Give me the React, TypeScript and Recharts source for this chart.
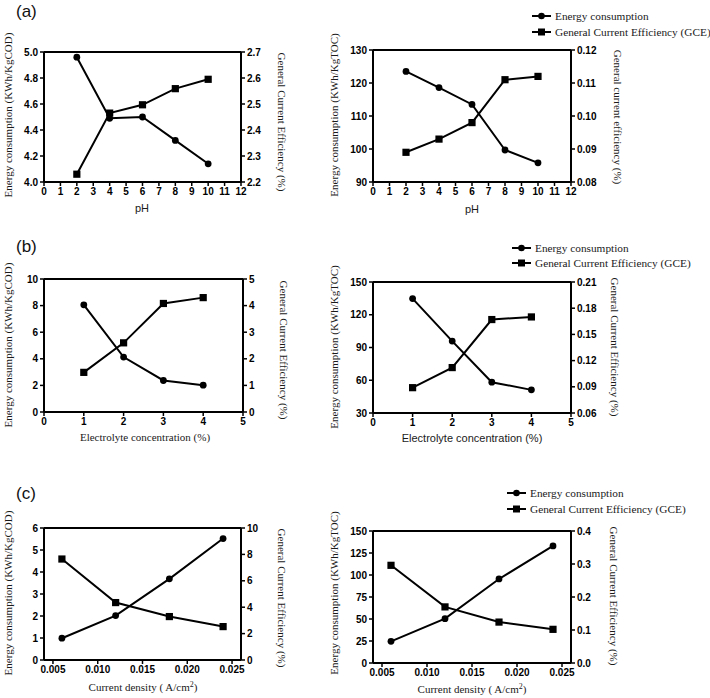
import React from 'react';
import { LineChart, Line, XAxis, YAxis, ReferenceLine } from 'recharts';

// (a) pH
const pH = [2, 4, 6, 8, 10];
const energyCodPH = [4.96, 4.49, 4.5, 4.32, 4.14];
const gceCodPH = [2.23, 2.465, 2.497, 2.559, 2.595];
const energyTocPH = [123.5, 118.6, 113.5, 99.7, 95.8];
const gceTocPH = [0.089, 0.093, 0.098, 0.111, 0.112];

// (b) electrolyte concentration
const electrolyte = [1, 2, 3, 4];
const energyCodEl = [8.06, 4.13, 2.37, 2.02];
const gceCodEl = [1.49, 2.6, 4.08, 4.3];
const energyTocEl = [134.8, 95.9, 58.2, 51.2];
const gceTocEl = [0.089, 0.112, 0.167, 0.17];

// (c) current density
const density = [0.006, 0.012, 0.018, 0.024];
const energyCodCd = [0.99, 2.02, 3.69, 5.52];
const gceCodCd = [7.65, 4.35, 3.29, 2.53];
const energyTocCd = [24.6, 50.4, 95.5, 133];
const gceTocCd = [0.296, 0.17, 0.124, 0.102];

// tick labels
const pHTicks = [0, 1, 2, 3, 4, 5, 6, 7, 8, 9, 10, 11, 12];
const elTicks = [0, 1, 2, 3, 4, 5];
const cdTicks = [0.005, 0.01, 0.015, 0.02, 0.025];
const aCodTicks = [4.0, 4.2, 4.4, 4.6, 4.8, 5.0];
const aCodGceTicks = [2.2, 2.3, 2.4, 2.5, 2.6, 2.7];
const aTocTicks = [90, 100, 110, 120, 130];
const aTocGceTicks = [0.08, 0.09, 0.1, 0.11, 0.12];
const bCodTicks = [0, 2, 4, 6, 8, 10];
const bCodGceTicks = [0, 1, 2, 3, 4, 5];
const bTocTicks = [30, 60, 90, 120, 150];
const bTocGceTicks = [0.06, 0.09, 0.12, 0.15, 0.18, 0.21];
const cCodTicks = [0, 1, 2, 3, 4, 5, 6];
const cCodGceTicks = [0, 2, 4, 6, 8, 10];
const cTocTicks = [0, 25, 50, 75, 100, 125, 150];
const cTocGceTicks = [0, 0.1, 0.2, 0.3, 0.4];

const AXW = 40;
const TOP = 8;
const XH = 22;
const SERIF = '"Liberation Serif", "Times New Roman", serif';
const SANS = '"Liberation Sans", Arial, sans-serif';

const tickStyle = { fill: '#000', fontSize: 10, fontWeight: 'bold', fontFamily: SANS };
const axisLine = { stroke: '#000', strokeWidth: 2 };
const tickLine = { stroke: '#000', strokeWidth: 1.5 };

const Square = (props: any) => {
  const { cx, cy, index } = props;
  if (cx == null || cy == null) return <g key={index} />;
  return <rect key={index} x={cx - 3.6} y={cy - 3.6} width={7.2} height={7.2} fill="#000" />;
};

type PanelProps = {
  left: number;
  top: number;
  w: number;
  h: number;
  xs: number[];
  energy: number[];
  gce: number[];
  xDomain: [number, number];
  xTicks: number[];
  xFmt?: (v: number) => string;
  lTicks: number[];
  lFmt?: (v: number) => string;
  rTicks: number[];
  rFmt?: (v: number) => string;
};

const Panel: React.FC<PanelProps> = ({ left, top, w, h, xs, energy, gce, xDomain, xTicks, xFmt, lTicks, lFmt, rTicks, rFmt }) => {
  const data = xs.map((x, i) => ({ x, energy: energy[i], gce: gce[i] }));
  const lDom: [number, number] = [lTicks[0], lTicks[lTicks.length - 1]];
  const rDom: [number, number] = [rTicks[0], rTicks[rTicks.length - 1]];
  return (
    <div style={{ position: 'absolute', left: left - AXW, top: top - TOP }}>
      <LineChart
        width={AXW * 2 + w}
        height={TOP + h + XH}
        data={data}
        margin={{ top: TOP, right: 0, bottom: 0, left: 0 }}
      >
        <XAxis
          dataKey="x"
          type="number"
          domain={xDomain}
          ticks={xTicks}
          interval={0}
          height={XH}
          tickFormatter={xFmt}
          tick={tickStyle}
          axisLine={axisLine}
          tickLine={tickLine}
          tickSize={4}
          allowDataOverflow
        />
        <YAxis
          yAxisId="l"
          domain={lDom}
          ticks={lTicks}
          interval={0}
          width={AXW}
          tickFormatter={lFmt}
          tick={tickStyle}
          axisLine={axisLine}
          tickLine={tickLine}
          tickSize={4}
          allowDataOverflow
        />
        <YAxis
          yAxisId="r"
          orientation="right"
          domain={rDom}
          ticks={rTicks}
          interval={0}
          width={AXW}
          tickFormatter={rFmt}
          tick={tickStyle}
          axisLine={axisLine}
          tickLine={tickLine}
          tickSize={4}
          allowDataOverflow
        />
        <ReferenceLine yAxisId="l" y={lDom[1]} stroke="#000" strokeWidth={2} />
        <Line
          yAxisId="l"
          dataKey="energy"
          type="linear"
          stroke="#000"
          strokeWidth={2}
          dot={{ r: 3.4, fill: '#000', stroke: '#000', strokeWidth: 0 }}
          isAnimationActive={false}
        />
        <Line
          yAxisId="r"
          dataKey="gce"
          type="linear"
          stroke="#000"
          strokeWidth={2}
          dot={Square}
          isAnimationActive={false}
        />
      </LineChart>
    </div>
  );
};

const Title: React.FC<{ x: number; y: number; rot?: number; sans?: boolean; children: React.ReactNode }> = ({ x, y, rot = 0, sans, children }) => (
  <div
    style={{
      position: 'absolute',
      left: x,
      top: y,
      transform: `translate(-50%, -50%) rotate(${rot}deg)`,
      whiteSpace: 'nowrap',
      fontFamily: sans ? SANS : SERIF,
      fontSize: 11,
      lineHeight: 1,
      color: '#1a1a1a',
    }}
  >
    {children}
  </div>
);

const LegendBox: React.FC<{ x: number; y1: number; y2: number }> = ({ x, y1, y2 }) => (
  <>
    {[
      { y: y1, label: 'Energy consumption', sq: false },
      { y: y2, label: 'General Current Efficiency (GCE)', sq: true },
    ].map((r) => (
      <div key={r.label} style={{ position: 'absolute', left: x, top: r.y - 8, height: 16, display: 'flex', alignItems: 'center' }}>
        <svg width={19} height={16}>
          <line x1={0} y1={8} x2={19} y2={8} stroke="#000" strokeWidth={2} />
          {r.sq ? <rect x={6} y={4.5} width={7} height={7} fill="#000" /> : <circle cx={9.5} cy={8} r={3.3} fill="#000" />}
        </svg>
        <span style={{ marginLeft: 4, fontFamily: SERIF, fontSize: 11.3, color: '#1a1a1a', whiteSpace: 'nowrap' }}>{r.label}</span>
      </div>
    ))}
  </>
);

const PanelLetter: React.FC<{ y: number; children: React.ReactNode }> = ({ y, children }) => (
  <div style={{ position: 'absolute', left: 16, top: y, fontFamily: SANS, fontSize: 17, lineHeight: 1, color: '#111' }}>{children}</div>
);

const f1 = (v: number) => v.toFixed(1);
const f2 = (v: number) => v.toFixed(2);
const f3 = (v: number) => v.toFixed(3);

export default function App() {
  return (
    <div style={{ position: 'absolute', left: 0, top: 0, width: 710, height: 698, background: '#fff', overflow: 'hidden' }}>
      <PanelLetter y={3}>(a)</PanelLetter>
      <PanelLetter y={238}>(b)</PanelLetter>
      <PanelLetter y={485}>(c)</PanelLetter>

      {/* row (a) */}
      <Panel left={44} top={52} w={197} h={130} xs={pH} energy={energyCodPH} gce={gceCodPH}
        xDomain={[0, 12]} xTicks={pHTicks} lTicks={aCodTicks} lFmt={f1} rTicks={aCodGceTicks} rFmt={f1} />
      <Panel left={373} top={50} w={198} h={132} xs={pH} energy={energyTocPH} gce={gceTocPH}
        xDomain={[0, 12]} xTicks={pHTicks} lTicks={aTocTicks} rTicks={aTocGceTicks} rFmt={f2} />
      <Title x={8} y={115} rot={-90}>Energy consumption (KWh/KgCOD)</Title>
      <Title x={281} y={122} rot={90}>General Current Efficiency (%)</Title>
      <Title x={142} y={208} sans>pH</Title>
      <Title x={334} y={115} rot={-90}>Energy consumption (KWh/KgTOC)</Title>
      <Title x={617} y={117} rot={90}>General current efficiency (%)</Title>
      <Title x={472} y={209} sans>pH</Title>
      <LegendBox x={532} y1={16} y2={32} />

      {/* row (b) */}
      <Panel left={44} top={279} w={199} h={133} xs={electrolyte} energy={energyCodEl} gce={gceCodEl}
        xDomain={[0, 5]} xTicks={elTicks} lTicks={bCodTicks} rTicks={bCodGceTicks} />
      <Panel left={373} top={282} w={198} h={131} xs={electrolyte} energy={energyTocEl} gce={gceTocEl}
        xDomain={[0, 5]} xTicks={elTicks} lTicks={bTocTicks} rTicks={bTocGceTicks} rFmt={f2} />
      <Title x={8} y={345} rot={-90}>Energy consumption (KWh/KgCOD)</Title>
      <Title x={283} y={350} rot={90}>General Current Efficiency (%)</Title>
      <Title x={145} y={437}>Electrolyte concentration (%)</Title>
      <Title x={334} y={347} rot={-90}>Energy consumption (KWh/KgTOC)</Title>
      <Title x={614} y={347} rot={90}>General Current Efficiency (%)</Title>
      <Title x={472} y={438} sans>Electrolyte concentration (%)</Title>
      <LegendBox x={512} y1={248} y2={263} />

      {/* row (c) */}
      <Panel left={44} top={528} w={197} h={132} xs={density} energy={energyCodCd} gce={gceCodCd}
        xDomain={[0.004, 0.026]} xTicks={cdTicks} xFmt={f3} lTicks={cCodTicks} rTicks={cCodGceTicks} />
      <Panel left={373} top={531} w={198} h={132} xs={density} energy={energyTocCd} gce={gceTocCd}
        xDomain={[0.004, 0.026]} xTicks={cdTicks} xFmt={f3} lTicks={cTocTicks} rTicks={cTocGceTicks} rFmt={f1} />
      <Title x={8} y={593} rot={-90}>Energy consumption (KWh/KgCOD)</Title>
      <Title x={281} y={598} rot={90}>General Current Efficiency (%)</Title>
      <Title x={143} y={687}>Current density ( A/cm<sup style={{ fontSize: 8 }}>2</sup>)</Title>
      <Title x={334} y={593} rot={-90}>Energy consumption (KWh/KgTOC)</Title>
      <Title x={613} y={596} rot={90}>General Current Efficiency (%)</Title>
      <Title x={472} y={689}>Current density ( A/cm<sup style={{ fontSize: 8 }}>2</sup>)</Title>
      <LegendBox x={507} y1={493} y2={509} />
    </div>
  );
}
